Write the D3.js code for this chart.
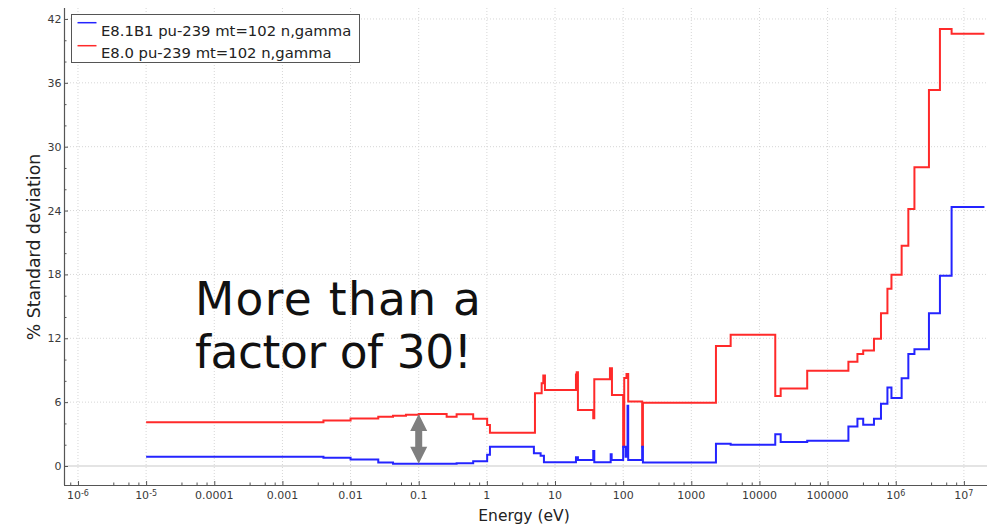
<!DOCTYPE html>
<html><head><meta charset="utf-8">
<script src="https://cdn.jsdelivr.net/npm/d3@7"></script>
<style>
body{margin:0;background:#fff}
svg{display:block}
text{font-family:"DejaVu Sans",sans-serif}
</style>
</head><body>
<svg id="c" width="992" height="528"></svg>
<script>
// ---- data ----
const seriesNames = ["E8.1B1 pu-239 mt=102 n,gamma", "E8.0 pu-239 mt=102 n,gamma"];
const blueEnergy = [1e-5, 0.004, 0.01, 0.0255, 0.042, 0.36, 0.63, 1.01, 1.11, 4.9, 6.15, 6.88, 20.3, 21.7, 36.4, 37.7, 65.6, 67.8, 100, 108.7, 116, 118.6, 190, 195, 2300, 3780, 17060, 20480, 50200, 202000, 274000, 333000, 479000, 607000, 755000, 865000, 1.22e6, 1.53e6, 1.88e6, 3.07e6, 4.45e6, 6.6e6];
const blueValue  = [0.88, 0.78, 0.6, 0.33, 0.2, 0.27, 0.45, 1.05, 1.81, 1.19, 0.97, 0.35, 0.82, 0.56, 1.41, 0.35, 1.1, 0.56, 1.81, 0.88, 5.66, 0.56, 1.81, 0.33, 2.1, 2.0, 2.98, 2.25, 2.38, 3.7, 4.44, 3.88, 4.44, 5.86, 7.38, 6.4, 8.24, 10.52, 10.96, 14.35, 17.88, 24.34];
const redEnergy  = [1e-5, 0.004, 0.01, 0.0255, 0.042, 0.065, 0.1, 0.257, 0.36, 0.63, 1.01, 1.11, 5.08, 6.37, 6.73, 7.12, 20.3, 20.8, 21.7, 36.4, 37.7, 64, 68.5, 100, 103.7, 112, 118.6, 190, 195, 2300, 3780, 17060, 20480, 50200, 202000, 274000, 333000, 479000, 607000, 755000, 865000, 1.22e6, 1.53e6, 1.88e6, 3.07e6, 4.45e6, 6.6e6];
const redValue   = [4.12, 4.27, 4.46, 4.62, 4.72, 4.82, 4.89, 4.63, 4.86, 4.45, 3.85, 3.13, 6.83, 7.77, 8.5, 7.14, 8.6, 8.8, 5.26, 4.48, 8.15, 9.18, 6.67, 1.81, 8.27, 8.64, 6.05, 1.81, 5.95, 11.27, 12.34, 6.58, 7.27, 8.96, 9.8, 10.52, 10.85, 11.95, 14.35, 16.66, 17.97, 20.7, 24.15, 28.07, 35.33, 41.06, 40.6];
const endEnergy = 2e7;
const xTickValues = [1e-6, 1e-5, 1e-4, 1e-3, 1e-2, 1e-1, 1, 10, 100, 1000, 1e4, 1e5, 1e6, 1e7];
const xTickBase   = ["10", "10", "0.0001", "0.001", "0.01", "0.1", "1", "10", "100", "1000", "10000", "100000", "10", "10"];
const xTickSup    = ["-6", "-5", "", "", "", "", "", "", "", "", "", "", "6", "7"];
const xMinorMult  = [3.3, 5.5, 7.7];
const yTickValues = [0, 6, 12, 18, 24, 30, 36, 42];
const yMinorValues = [2, 4, 8, 10, 14, 16, 20, 22, 26, 28, 32, 34, 38, 40];
const xTitle = "Energy (eV)";
const yTitle = "% Standard deviation";
const noteLines = ["More than a", "factor of 30!"];
const arrowEnergy = 0.1, arrowTop = 4.89, arrowBottom = 0.2;

// ---- layout ----
const L = 64, R = 987, T = 8, B = 485;
const svg = d3.select("#c");
const x = d3.scaleLog().domain([Math.pow(10, -6.205), Math.pow(10, 7.339)]).range([L, R]);
const y = d3.scaleLinear().domain([-1.785, 43.03]).range([B, T]);

// grid
const grid = svg.append("g");
grid.selectAll(".vg").data(xTickValues).join("line")
  .attr("x1", d => x(d)).attr("x2", d => x(d)).attr("y1", T).attr("y2", B)
  .attr("stroke", "#d6d6d6").attr("stroke-width", 1).attr("stroke-dasharray", "1 2");
grid.selectAll(".hg").data(yTickValues.filter(d => d !== 0)).join("line")
  .attr("x1", L).attr("x2", R).attr("y1", d => y(d)).attr("y2", d => y(d))
  .attr("stroke", "#d6d6d6").attr("stroke-width", 1).attr("stroke-dasharray", "1 2");
grid.append("line").attr("x1", L).attr("x2", R).attr("y1", y(0)).attr("y2", y(0))
  .attr("stroke", "#e4e4e4").attr("stroke-width", 2);

// axes
const minorX = [];
for (let d = -7; d <= 7; d++) xMinorMult.forEach(m => { const v = m * Math.pow(10, d); if (x(v) > L && x(v) < R) minorX.push(v); });
const axStroke = "#555";
const gx = svg.append("g").attr("transform", `translate(0,${B})`)
  .call(d3.axisBottom(x).tickValues(xTickValues).tickSizeInner(-4).tickSizeOuter(0).tickFormat(() => ""));
const gxm = svg.append("g").attr("transform", `translate(0,${B})`)
  .call(d3.axisBottom(x).tickValues(minorX).tickSizeInner(-2.5).tickSizeOuter(0).tickFormat(() => ""));
gxm.select(".domain").remove();
const gy = svg.append("g").attr("transform", `translate(${L},0)`)
  .call(d3.axisLeft(y).tickValues(yTickValues).tickSizeInner(-4).tickSizeOuter(0).tickFormat(() => ""));
const gym = svg.append("g").attr("transform", `translate(${L},0)`)
  .call(d3.axisLeft(y).tickValues(yMinorValues).tickSizeInner(-2.5).tickSizeOuter(0).tickFormat(() => ""));
gym.select(".domain").remove();
svg.selectAll(".domain").attr("stroke", axStroke).attr("stroke-width", 1.2);
svg.selectAll(".tick line").attr("stroke", axStroke);
gx.select(".domain").attr("d", `M${L},0.5H${R}`);
gy.select(".domain").attr("d", `M0.5,${T}V${B}`);

// tick labels
const xl = svg.append("g").attr("fill", "#3a3a3a").attr("font-size", 11);
xTickValues.forEach((v, i) => {
  const t = xl.append("text").attr("x", x(v)).attr("y", 498.5).attr("text-anchor", "middle");
  t.append("tspan").text(xTickBase[i]);
  if (xTickSup[i]) t.append("tspan").attr("font-size", 8).attr("dy", -3).text(xTickSup[i]);
});
const yl = svg.append("g").attr("fill", "#3a3a3a").attr("font-size", 11);
yTickValues.forEach(v => {
  yl.append("text").attr("x", 61.5).attr("y", y(v) + 4).attr("text-anchor", "end").text(v);
});

// titles
svg.append("text").attr("x", 524).attr("y", 521).attr("text-anchor", "middle")
  .attr("font-size", 15.5).attr("fill", "#222").text(xTitle);
svg.append("text").attr("transform", "translate(40,247) rotate(-90)").attr("text-anchor", "middle")
  .attr("font-size", 17.3).attr("fill", "#222").text(yTitle);

// series
function pts(E, V) { const p = E.map((e, i) => [e, V[i]]); p.push([endEnergy, V[V.length - 1]]); return p; }
const line = d3.line().x(d => x(d[0])).y(d => y(d[1])).curve(d3.curveStepAfter);
const colors = ["#2424ff", "#ff2a2a"];
svg.append("path").datum(pts(redEnergy, redValue)).attr("d", line)
  .attr("fill", "none").attr("stroke", colors[1]).attr("stroke-width", 2);
svg.append("path").datum(pts(blueEnergy, blueValue)).attr("d", line)
  .attr("fill", "none").attr("stroke", colors[0]).attr("stroke-width", 2);

// legend
const lg = svg.append("g");
lg.append("rect").attr("x", 71.5).attr("y", 14.5).attr("width", 288).attr("height", 48)
  .attr("fill", "#fff").attr("stroke", "#555").attr("stroke-width", 1);
seriesNames.forEach((n, i) => {
  const yy = 22.7 + i * 23;
  lg.append("line").attr("x1", 77.5).attr("x2", 96.5).attr("y1", yy).attr("y2", yy)
    .attr("stroke", colors[i]).attr("stroke-width", 1.5);
  lg.append("text").attr("x", 101).attr("y", 35.7 + i * 21.8).attr("font-size", 14.8).attr("fill", "#222").text(n);
});

// annotation
const noteWidths = [286, 277];
noteLines.forEach((s, i) => {
  svg.append("text").attr("x", 195).attr("y", 315 + i * 53).attr("font-size", 45.5).attr("fill", "#111")
    .attr("textLength", noteWidths[i]).attr("lengthAdjust", "spacing").text(s);
});
const ax = x(arrowEnergy), ay1 = y(arrowTop), ay2 = y(arrowBottom);
const hw = 8.5, hh = 17, sw = 3.5;
svg.append("path").attr("fill", "#7f7f7f").attr("d",
  `M${ax},${ay1}L${ax + hw},${ay1 + hh}L${ax + sw},${ay1 + hh}L${ax + sw},${ay2 - hh}L${ax + hw},${ay2 - hh}` +
  `L${ax},${ay2}L${ax - hw},${ay2 - hh}L${ax - sw},${ay2 - hh}L${ax - sw},${ay1 + hh}L${ax - hw},${ay1 + hh}Z`);
</script>
</body></html>
